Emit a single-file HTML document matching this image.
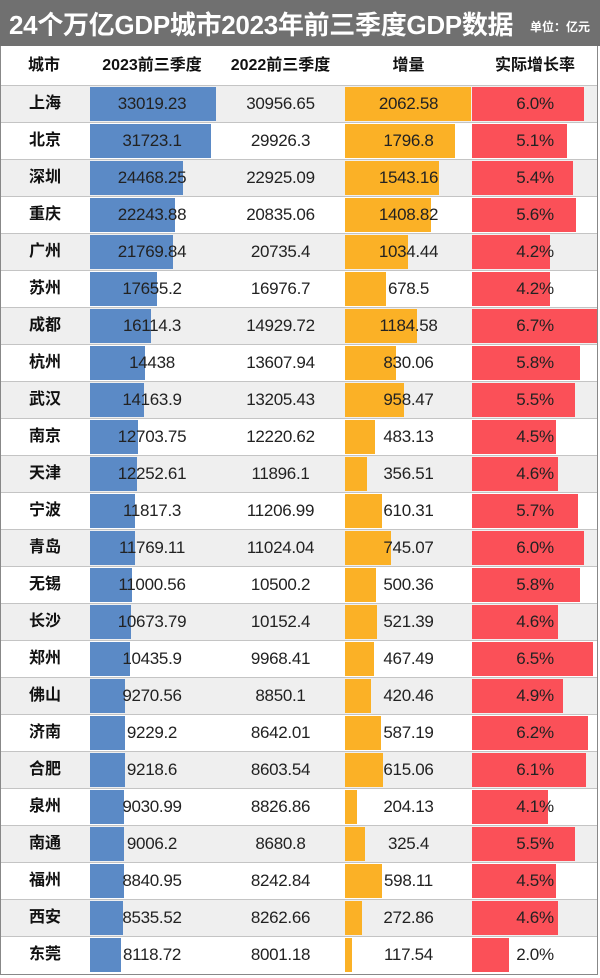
<!DOCTYPE html>
<html><head><meta charset="utf-8">
<style>
body{margin:0;width:600px;height:978px;background:#fff;font-family:"Liberation Sans","Noto Sans CJK SC",sans-serif;overflow:hidden}
#wrap{position:absolute;left:0;top:0;width:598px;height:975px;border:1px solid #888;box-sizing:border-box}
#title{position:absolute;left:0;top:0;width:600px;height:46px;background:#707070;color:#fff}
#title .t{position:absolute;left:9px;top:5px;font-size:26px;font-weight:bold;letter-spacing:-0.3px;white-space:nowrap}
#title .u{position:absolute;right:10px;top:18px;font-size:12px;font-weight:bold}
.hdr{position:absolute;top:47px;height:38px;line-height:38px;font-size:16px;font-weight:bold;text-align:center;color:#111}
.row{position:absolute;left:1px;width:596px;height:37px;border-top:1px solid #c4c4c4;box-sizing:border-box}
.cell{position:absolute;top:0;height:36px;line-height:36px;font-size:17px;letter-spacing:-0.3px;text-align:center;color:#222}
.bar{position:absolute;top:1px;height:34px}
.city{font-weight:bold;font-size:16px;color:#111;letter-spacing:0}
</style></head><body>
<div id="wrap"></div>
<div id="title"><span class="t">24个万亿GDP城市2023年前三季度GDP数据</span><span class="u">单位：亿元</span></div>
<div class="hdr" style="left:0;width:88px">城市</div>
<div class="hdr" style="left:88px;width:128px">2023前三季度</div>
<div class="hdr" style="left:216px;width:129px">2022前三季度</div>
<div class="hdr" style="left:345px;width:127px">增量</div>
<div class="hdr" style="left:472px;width:126px">实际增长率</div>
<div id="rows"></div>
<script>
const cities=["上海","北京","深圳","重庆","广州","苏州","成都","杭州","武汉","南京","天津","宁波","青岛","无锡","长沙","郑州","佛山","济南","合肥","泉州","南通","福州","西安","东莞"];
const gdp2023=["33019.23","31723.1","24468.25","22243.88","21769.84","17655.2","16114.3","14438","14163.9","12703.75","12252.61","11817.3","11769.11","11000.56","10673.79","10435.9","9270.56","9229.2","9218.6","9030.99","9006.2","8840.95","8535.52","8118.72"];
const gdp2022=["30956.65","29926.3","22925.09","20835.06","20735.4","16976.7","14929.72","13607.94","13205.43","12220.62","11896.1","11206.99","11024.04","10500.2","10152.4","9968.41","8850.1","8642.01","8603.54","8826.86","8680.8","8242.84","8262.66","8001.18"];
const increase=["2062.58","1796.8","1543.16","1408.82","1034.44","678.5","1184.58","830.06","958.47","483.13","356.51","610.31","745.07","500.36","521.39","467.49","420.46","587.19","615.06","204.13","325.4","598.11","272.86","117.54"];
const growth=[6.0,5.1,5.4,5.6,4.2,4.2,6.7,5.8,5.5,4.5,4.6,5.7,6.0,5.8,4.6,6.5,4.9,6.2,6.1,4.1,5.5,4.5,4.6,2.0];
const maxG=Math.max(...gdp2023.map(Number)),maxI=Math.max(...increase.map(Number)),maxR=Math.max(...growth);
const rows=document.getElementById('rows');
function mk(parent,cls,style,text){const d=document.createElement('div');d.className=cls;d.style.cssText=style;if(text!==undefined)d.textContent=text;parent.appendChild(d);return d;}
cities.forEach((c,i)=>{
  const r=mk(rows,'row','top:'+(85+i*37)+'px;background:'+(i%2===0?'#efefef':'#fff'));
  
  
  const b1=mk(r,'bar','left:89px;background:#5b8ac6;width:'+(Number(gdp2023[i])/maxG*126)+'px');
  
  
  const b2=mk(r,'bar','left:344px;background:#fbb126;width:'+(Number(increase[i])/maxI*126)+'px');
  
  
  const b3=mk(r,'bar','left:471px;background:#fb5058;width:'+(growth[i]/maxR*125)+'px');
  
  
  const t0=mk(r,'cell city','left:0;width:88px',c);
  
  
  const t1=mk(r,'cell','left:87px;width:128px',gdp2023[i]);
  
  
  const t2=mk(r,'cell','left:215px;width:129px',gdp2022[i]);
  
  
  const t3=mk(r,'cell','left:344px;width:127px',increase[i]);
  
  
  const t4=mk(r,'cell','left:471px;width:126px',growth[i].toFixed(1)+'%');
  
  
});
</script>
</body></html>
